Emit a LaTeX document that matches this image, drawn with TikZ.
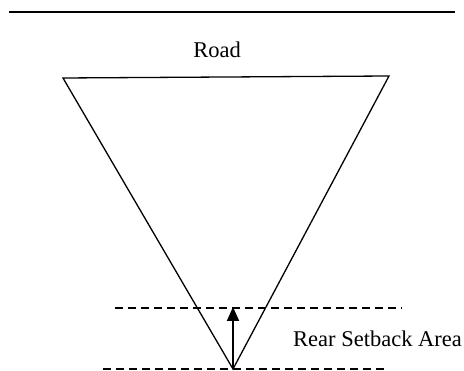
\documentclass[tikz,border=0pt]{standalone}
\usepackage{fontspec}
\setmainfont{Liberation Serif}
\usetikzlibrary{arrows.meta}
\begin{document}
\begin{tikzpicture}[x=1pt,y=-1pt,
  lbl/.style={inner sep=0pt,font=\fontsize{22.5}{24}\selectfont},
  dashline/.style={line width=1.3pt,dash pattern=on 8pt off 5pt}]
\useasboundingbox (0,0) rectangle (464,371);
\coordinate (r1) at (9,12);
\coordinate (r2) at (455,12);
\draw[line width=2pt] (r1) -- (r2);
\node[lbl] (road) at (217,50) {Road};
\coordinate (tl) at (63,78);
\coordinate (tr) at (389,76);
\coordinate (ap) at (233,369);
\draw[line width=1.3pt,line join=miter] (ap) -- (tl) -- (tr) -- cycle;
\coordinate (d1a) at (115,308);
\coordinate (d1b) at (402,308);
\coordinate (d2a) at (103,369);
\coordinate (d2b) at (388,369);
\draw[dashline] (d1a) -- (d1b);
\draw[dashline] (d2a) -- (d2b);
\coordinate (tip) at (233,307);
\draw[line width=2pt,-{Triangle[length=14pt,width=12pt]}] (ap) -- (tip);
\node[lbl,anchor=west] (rsa) at (293,339) {Rear Setback Area};
\end{tikzpicture}
\end{document}
